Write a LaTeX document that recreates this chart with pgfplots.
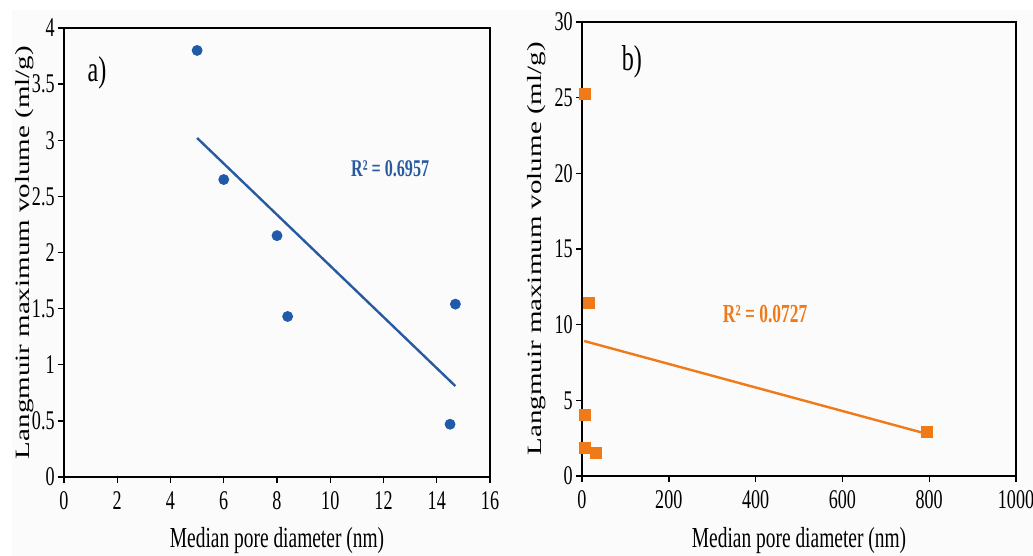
\documentclass[border=0pt]{standalone}
\usepackage{fontspec}
\setmainfont{Liberation Serif}[FakeStretch=0.67]
\newfontfamily\ylabfont{Liberation Serif}
\usepackage{graphicx}
\usepackage{pgfplots}
\pgfplotsset{compat=1.18}
\definecolor{ptblue}{RGB}{31,91,168}
\definecolor{lnblue}{RGB}{40,90,160}
\definecolor{ptorange}{RGB}{240,122,24}
\pgfplotsset{
  common/.style={
    scale only axis,
    anchor=south west,
    axis line style={black, line width=0.8pt},
    tick style={black, line width=0.7pt},
    tick align=outside,
    major tick length=3pt,
    xtick pos=left, ytick pos=left,
    minor tick num=0,
    /pgf/number format/assume math mode=true,
    /pgf/number format/1000 sep={},
    ticklabel style={font=\fontsize{13.5}{13.5}\selectfont, inner sep=1.5pt},
    xticklabel style={yshift=-2.5pt},
    label style={font=\fontsize{14.5}{14.5}\selectfont},
    clip=false,
  }
}
\begin{document}
\begin{tikzpicture}
\useasboundingbox (0,0) rectangle (516.5pt,278pt);
\fill[black!1.5] (6pt,0) rectangle (516.5pt,273pt);
\begin{axis}[common,
  at={(32pt,39.5pt)}, width=213pt, height=224.5pt,
  xmin=0, xmax=16, ymin=0, ymax=4,
  xtick={0,2,...,16}, ytick={0,0.5,1,1.5,2,2.5,3,3.5,4},
  yticklabels={0,0.5,1,1.5,2,2.5,3,3.5,4},
  xlabel={Median pore diameter (nm)},
  ylabel={\scalebox{1}[0.7]{\ylabfont\fontsize{14.5}{14.5}\selectfont Langmuir maximum volume (ml/g)}},
  xlabel style={at={(axis description cs:0.5,-0.1425)}, anchor=center},
  ylabel style={at={(axis description cs:-0.0915,0.5)}, anchor=center},
]
\addplot[only marks, mark=*, mark size=2.5pt, color=ptblue] coordinates {
  (5.0,3.80) (6.0,2.65) (8.0,2.15) (8.4,1.43) (14.7,1.54) (14.5,0.47)
};
\addplot[lnblue, line width=1.2pt] coordinates {(5.0,3.02) (14.7,0.81)};
\node[font=\fontsize{18}{18}\selectfont] at (axis cs:1.24,3.6) {a)};
\node[font=\bfseries\fontsize{12}{12}\selectfont, text=lnblue] at (axis cs:12.25,2.75) {R² = 0.6957};
\end{axis}
\begin{axis}[common,
  at={(291pt,40pt)}, width=217pt, height=227pt,
  xmin=0, xmax=1000, ymin=0, ymax=30,
  xtick={0,200,...,1000}, ytick={0,5,...,30},
  xlabel={Median pore diameter (nm)},
  ylabel={\scalebox{1}[0.7]{\ylabfont\fontsize{14.5}{14.5}\selectfont Langmuir maximum volume (ml/g)}},
  xlabel style={at={(axis description cs:0.5,-0.143)}, anchor=center},
  ylabel style={at={(axis description cs:-0.1037,0.5)}, anchor=center},
]
\addplot[only marks, mark=square*, mark size=2.7pt, color=ptorange] coordinates {
  (7,25.25) (16,11.43) (7,4.03) (7,1.85) (32,1.52) (795,2.9)
};
\addplot[ptorange, line width=1.2pt] coordinates {(5,8.92) (795,2.78)};
\node[font=\fontsize{18}{18}\selectfont] at (axis cs:115,27.4) {b)};
\node[font=\bfseries\fontsize{13}{13}\selectfont, text=ptorange] at (axis cs:422,10.7) {R² = 0.0727};
\end{axis}
\end{tikzpicture}
\end{document}
